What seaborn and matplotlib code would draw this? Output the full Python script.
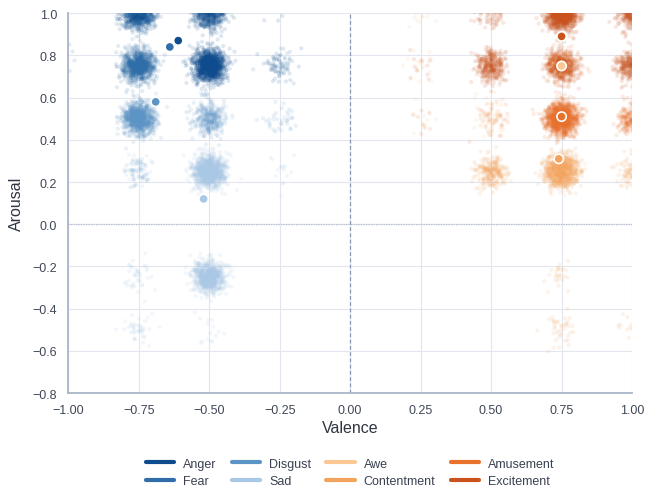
import matplotlib
matplotlib.use("Agg")
import matplotlib.pyplot as plt
import numpy as np
import pandas as pd
import seaborn as sns
from matplotlib.lines import Line2D

# emotion categories and their colours (blues = negative, oranges = positive)
emotions = ['Anger', 'Fear', 'Disgust', 'Sad', 'Awe', 'Contentment', 'Amusement', 'Excitement']
colors = ['#0f4c8e', '#2f6ea8', '#5d94c6', '#a8c8e6', '#fbc792', '#f4a35d', '#e8712c', '#c9521d']

# rating cells: (valence, arousal) rating, emotion, number of ratings
cell_emotion = ['Anger', 'Anger', 'Anger', 'Anger', 'Anger',
                'Fear', 'Fear', 'Fear', 'Fear', 'Fear',
                'Disgust', 'Disgust', 'Disgust', 'Disgust',
                'Sad', 'Sad', 'Sad', 'Sad', 'Sad', 'Sad', 'Sad', 'Sad',
                'Awe', 'Awe', 'Awe', 'Awe', 'Awe',
                'Contentment', 'Contentment', 'Contentment', 'Contentment', 'Contentment', 'Contentment',
                'Amusement', 'Amusement', 'Amusement', 'Amusement', 'Amusement',
                'Excitement', 'Excitement', 'Excitement', 'Excitement', 'Excitement', 'Excitement', 'Excitement']
cell_valence = [-0.50, -0.75, -0.50, -0.25, -0.25,
                -0.75, -0.75, -0.25, -1.00, -1.00,
                -0.75, -0.50, -0.25, -0.75,
                -0.50, -0.50, -0.75, -0.75, -0.75, -0.50, -0.25, -0.50,
                0.25, 0.25, 0.50, 0.25, 0.75,
                0.75, 0.50, 1.00, 0.75, 0.75, 1.00,
                0.75, 1.00, 0.50, 0.75, 0.25,
                0.75, 1.00, 0.50, 0.75, 1.00, 0.50, 0.25]
cell_arousal = [0.75, 1.00, 1.00, 0.75, 1.00,
                0.75, 1.00, 0.75, 0.75, 1.00,
                0.50, 0.50, 0.50, 0.25,
                0.25, -0.25, 0.25, -0.25, -0.50, -0.50, 0.25, 0.50,
                0.75, 0.50, 0.50, 1.00, 0.25,
                0.25, 0.25, 0.25, -0.25, -0.50, -0.50,
                0.50, 0.50, 0.50, 0.75, 0.50,
                1.00, 1.00, 1.00, 0.75, 0.75, 0.75, 0.75]
cell_count = [1300, 500, 600, 50, 10,
              1000, 600, 30, 8, 6,
              1000, 300, 35, 40,
              1100, 800, 40, 40, 40, 15, 15, 80,
              20, 10, 60, 15, 300,
              900, 250, 120, 25, 40, 15,
              1300, 250, 40, 250, 8,
              1300, 450, 100, 400, 400, 350, 10]

# emotion mean ratings
mean_valence = [-0.61, -0.64, -0.69, -0.52, 0.75, 0.74, 0.75, 0.75]
mean_arousal = [0.87, 0.84, 0.58, 0.12, 0.75, 0.31, 0.51, 0.89]

# expand the cells into individual ratings, with display jitter so the overlapping ratings are visible
df = pd.DataFrame({'emotion': np.repeat(cell_emotion, cell_count),
                   'valence': np.repeat(cell_valence, cell_count),
                   'arousal': np.repeat(cell_arousal, cell_count)})
rng = np.random.default_rng(3)
df['valence'] = df['valence'] + rng.normal(0, 0.028, len(df))
df['arousal'] = df['arousal'] + rng.normal(0, 0.038, len(df))
df = df.sample(frac=1, random_state=1)

means = pd.DataFrame({'emotion': emotions, 'valence': mean_valence, 'arousal': mean_arousal})
palette = dict(zip(emotions, colors))

sns.set_theme(style='whitegrid')
plt.rcParams['font.family'] = ['Liberation Sans', 'DejaVu Sans']

fig, ax = plt.subplots(figsize=(6.57, 4.89), dpi=100)
fig.subplots_adjust(left=0.104, right=0.962, top=0.971, bottom=0.194)

ax.axvline(0, color='#8a97b0', lw=0.9, ls=(0, (3, 2)), zorder=1)
ax.axhline(0, color='#b4bdcf', lw=0.9, ls=(0, (1, 1)), zorder=1)

sns.scatterplot(data=df, x='valence', y='arousal', hue='emotion', palette=palette,
                s=9, alpha=0.13, linewidth=0, legend=False, ax=ax, zorder=2)
sns.scatterplot(data=means, x='valence', y='arousal', hue='emotion', palette=palette,
                s=45, edgecolor='white', linewidth=1.2, legend=False, ax=ax, zorder=3)

xt = np.round(np.arange(-1, 1.01, 0.25), 2) + 0.0
yt = np.round(np.arange(-0.8, 1.01, 0.2), 1) + 0.0
ax.set_xlim(-1, 1)
ax.set_ylim(-0.8, 1.0)
ax.set_xticks(xt)
ax.set_yticks(yt)
ax.set_xticklabels([f'{v:.2f}'.replace('-', '\u2212') for v in xt])
ax.set_yticklabels([f'{v:.1f}'.replace('-', '\u2212') for v in yt])
ax.tick_params(labelsize=9, colors='#3f4756', length=0, pad=8)
ax.set_xlabel('Valence', fontsize=11.5, color='#2f3542', labelpad=3)
ax.set_ylabel('Arousal', fontsize=11.5, color='#2f3542', labelpad=6)

ax.grid(color='#e3e6ee', lw=0.8)
for side in ['top', 'right']:
    ax.spines[side].set_visible(False)
for side in ['left', 'bottom']:
    ax.spines[side].set_color('#a9b5c8')
    ax.spines[side].set_linewidth(1.3)

handles = [Line2D([0], [0], color=c, lw=3) for c in colors]
ax.legend(handles, emotions, loc='upper center', bbox_to_anchor=(0.5, -0.15), ncol=4,
          frameon=False, fontsize=9, handlelength=2.3, handletextpad=0.7, columnspacing=1.2,
          labelspacing=0.45, labelcolor='#3a4150', borderaxespad=0.2)

fig.savefig('out.png', dpi=100)
